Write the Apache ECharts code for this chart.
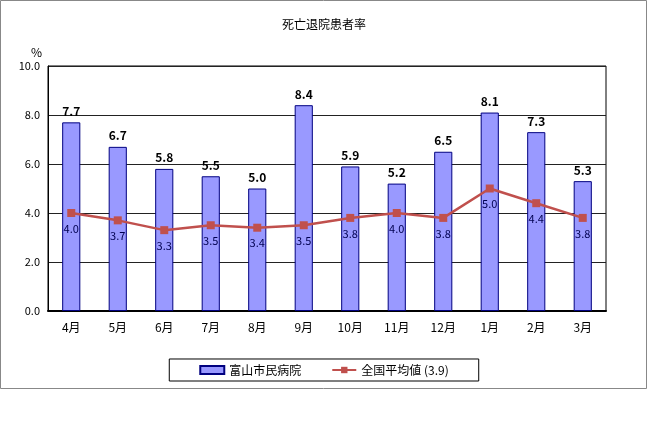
<!DOCTYPE html>
<html><head><meta charset="utf-8">
<script src="https://cdn.jsdelivr.net/npm/echarts@6/dist/echarts.min.js"></script>
<style>html,body{margin:0;padding:0;background:#fff}#c{width:648px;height:445px}</style>
</head><body><div id="c"></div>
<script>
const categories = ['4月','5月','6月','7月','8月','9月','10月','11月','12月','1月','2月','3月'];
const hospitalValues = [7.7, 6.7, 5.8, 5.5, 5.0, 8.4, 5.9, 5.2, 6.5, 8.1, 7.3, 5.3];
const nationalValues = [4.0, 3.7, 3.3, 3.5, 3.4, 3.5, 3.8, 4.0, 3.8, 5.0, 4.4, 3.8];
const seriesNames = ['富山市民病院', '全国平均値 (3.9)'];
const titleText = '死亡退院患者率';

const FONT = '"Noto Sans CJK JP", "DejaVu Sans", sans-serif';
const chart = echarts.init(document.getElementById('c'), null, {renderer:'canvas'});
chart.setOption({
  animation: false,
  backgroundColor: '#fff',
  textStyle: {fontFamily: FONT},
  title: {text: titleText, left: 'center', top: 13,
    textStyle: {fontSize: 12, fontWeight: 'normal', color: '#000', fontFamily: FONT}},
  graphic: [{type: 'rect', shape: {x: 0.5, y: 0.5, width: 646, height: 388},
    style: {fill: 'none', stroke: '#888', lineWidth: 1}, silent: true}],
  legend: {
    bottom: 445 - 381, left: 'center',
    data: [{name: seriesNames[0], icon: 'rect'}, {name: seriesNames[1]}],
    itemGap: 30, itemWidth: 24, itemHeight: 8,
    padding: [5, 30, 5, 30],
    borderColor: '#000', borderWidth: 1,
    textStyle: {fontSize: 12, color: '#000', fontFamily: FONT}
  },
  grid: {left: 48, right: 42, top: 66, bottom: 134, show: true,
    borderColor: '#000', borderWidth: 1, backgroundColor: '#fff'},
  xAxis: {
    type: 'category', data: categories,
    axisLine: {lineStyle: {color: '#000', width: 2}},
    axisTick: {inside: true, length: 4, lineStyle: {color: '#000'}},
    axisLabel: {fontSize: 12, color: '#000', margin: 10, fontFamily: FONT}
  },
  yAxis: {
    type: 'value', min: 0, max: 10, interval: 2,
    name: '%', nameLocation: 'end', nameGap: 8,
    nameTextStyle: {fontSize: 12, color: '#000', align: 'right', padding: [0, 6, 0, 0]},
    axisLine: {show: true, lineStyle: {color: '#000'}},
    axisTick: {show: false},
    splitLine: {lineStyle: {color: '#222', width: 1}},
    axisLabel: {fontSize: 11, color: '#000', margin: 8, formatter: v => v.toFixed(1)}
  },
  series: [
    {name: seriesNames[0], type: 'bar', data: hospitalValues, barWidth: '39%',
      itemStyle: {color: '#9999FF', borderColor: '#000080', borderWidth: 1},
      label: {show: true, position: 'top', distance: 5, fontSize: 12, fontWeight: 'bold',
        color: '#000', formatter: p => p.value.toFixed(1)}},
    {name: seriesNames[1], type: 'line', data: nationalValues,
      symbol: 'rect', symbolSize: 8,
      lineStyle: {color: '#C0504D', width: 2.5},
      itemStyle: {color: '#C0504D'},
      label: {show: true, position: 'bottom', distance: 6, fontSize: 11,
        color: '#000050', formatter: p => p.value.toFixed(1)}}
  ]
});
</script></body></html>
